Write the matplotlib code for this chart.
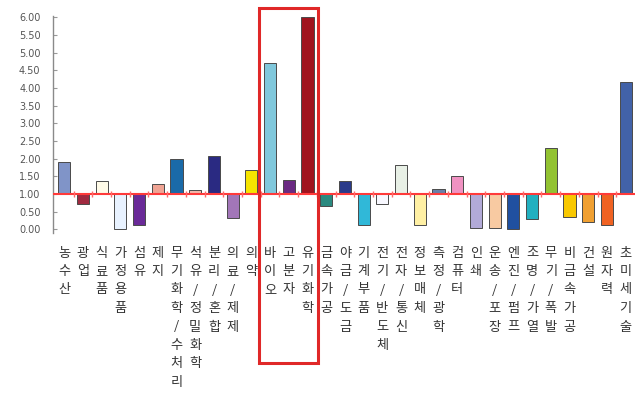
import matplotlib
matplotlib.use("Agg")
import matplotlib.pyplot as plt
from matplotlib.patches import Rectangle
from matplotlib.transforms import blended_transform_factory

# Technology fields and relative index values (baseline = 1.00)
categories = ['농수산', '광업', '식료품', '가정용품', '섬유', '제지',
              '무기화학/수처리', '석유/정밀화학', '분리/혼합', '의료/제제', '의약',
              '바이오', '고분자', '유기화학', '금속가공', '야금/도금', '기계부품',
              '전기/반도체', '전자/통신', '정보매체', '측정/광학', '컴퓨터', '인쇄',
              '운송/포장', '엔진/펌프', '조명/가열', '무기/폭발', '비금속가공',
              '건설', '원자력', '초미세기술']
values = [1.91, 0.72, 1.38, 0.02, 0.11, 1.28,
          2.00, 1.11, 2.08, 0.33, 1.67,
          4.71, 1.40, 6.00, 0.65, 1.38, 0.11,
          0.73, 1.83, 0.11, 1.14, 1.52, 0.04,
          0.04, 0.02, 0.28, 2.30, 0.35,
          0.21, 0.11, 4.18]
bar_colors = ['#8094c8', '#a02a40', '#fffbe8', '#e8f2ff', '#6a2a98', '#f0a494',
              '#1a6aa8', '#f2b8aa', '#2a2a82', '#a276b8', '#f6e400',
              '#80c8dc', '#6a2a82', '#a0141e', '#2a8a80', '#2a3a8a', '#30b8d8',
              '#f8f8ff', '#e8f0e6', '#fff0a4', '#6a80a8', '#f092c2', '#b2aad8',
              '#f8caa2', '#2050a0', '#22b0c0', '#92c232', '#f8c800',
              '#f0a032', '#f06222', '#4262a8']
y_ticks = [0.0, 0.5, 1.0, 1.5, 2.0, 2.5, 3.0, 3.5, 4.0, 4.5, 5.0, 5.5, 6.0]
baseline = 1.0
highlight = (11, 13)  # 바이오 .. 유기화학

W, H = 635, 394
fig = plt.figure(figsize=(W / 100, H / 100), dpi=100)
ax = fig.add_axes([53 / W, 1 - 232.8 / H, (635 - 53) / W, (232.8 - 15.7) / H])

x = list(range(len(categories)))
heights = [v - baseline for v in values]
ax.bar(x, heights, bottom=baseline, width=0.65, color=bar_colors,
       edgecolor='#4a4a4a', linewidth=0.7, zorder=2)

ax.set_xlim(-0.6, 30.5)
ax.set_ylim(-0.1, 6.05)

# category axis crossing at 1.00
ax.axhline(baseline, color='#ff3a3a', lw=1.5, zorder=3)
ax.plot([i + 0.5 for i in x[:-1]], [baseline] * (len(x) - 1), ls='none',
        marker='|', ms=5, mew=1.0, color='#ff6a6a', zorder=3)

ax.set_yticks(y_ticks)
ax.set_yticklabels([f'{t:.2f}' for t in y_ticks], fontsize=7, color='#555555')
ax.tick_params(axis='y', direction='in', length=3, color='#999999', pad=9)
ax.set_xticks([])
for s in ['top', 'right', 'bottom']:
    ax.spines[s].set_visible(False)
ax.spines['left'].set_color('#8a8a8a')
ax.spines['left'].set_linewidth(1.0)

# vertical (stacked) Korean category labels
tr = blended_transform_factory(ax.transData, fig.transFigure)
for i, name in enumerate(categories):
    for k, ch in enumerate(name):
        ypx = 253 + 18.5 * k
        ax.text(i, 1 - ypx / H, ch, transform=tr, ha='center', va='center',
                fontsize=9.5, color='#333333',
                family=['Noto Sans CJK KR', 'DejaVu Sans'], clip_on=False)

# highlight box around the top three fields
x0, x1 = highlight
rect = Rectangle((x0 - 0.6, 1 - 363 / H), (x1 - x0) + 1.15, (363 - 8) / H,
                 transform=tr, fill=False, edgecolor='#e02828', lw=2.2,
                 clip_on=False, zorder=5)
ax.add_patch(rect)

fig.savefig('out.png', dpi=100, facecolor='white')
